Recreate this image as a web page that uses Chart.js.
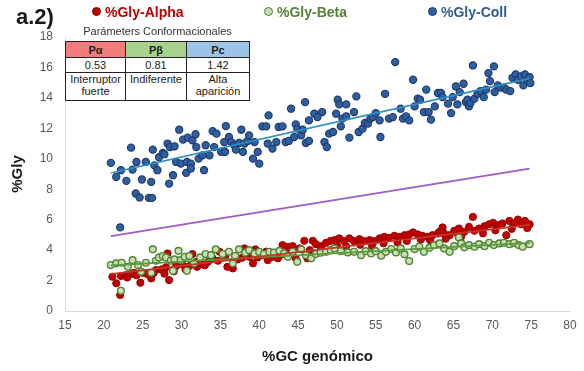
<!DOCTYPE html>
<html>
<head>
<meta charset="utf-8">
<script src="https://cdn.jsdelivr.net/npm/chart.js@4/dist/chart.umd.min.js"></script>
<style>
  html, body { margin: 0; padding: 0; background: #fff; }
  #wrap { position: relative; width: 584px; height: 371px; font-family: "Liberation Sans", Arial, sans-serif; }
  #c { position: absolute; left: 0; top: 0; }
  .tag { position: absolute; left: 16px; top: 4px; font-size: 22px; font-weight: bold; color: #1a1a1a; }
  .lg { position: absolute; top: 4px; font-size: 14px; font-weight: bold; white-space: nowrap; line-height: 16px; }
  .lg .dot { display: inline-block; width: 7px; height: 7px; border-radius: 50%; border: 1px solid; margin-right: 4px; vertical-align: 1px; }
  .ttl { position: absolute; left: 65px; width: 185px; top: 25px; text-align: center; font-size: 11px; color: #333; }
  table.par { position: absolute; left: 65px; top: 41px; border-collapse: collapse; background: #fff; font-size: 11px; color: #222; }
  table.par td { border: 1px solid #222; padding: 0; text-align: center; line-height: 12px; }
  table.par tr.h td { height: 15px; font-weight: bold; }
  table.par tr.v td { height: 14px; }
  table.par tr.d td { height: 27px; vertical-align: top; }
</style>
</head>
<body>
<div id="wrap">
  <canvas id="c" width="584" height="371"></canvas>
  <div class="tag">a.2)</div>
  <div class="lg" style="left:92px;color:#c00000"><span class="dot" style="background:#c00000;border-color:#8e0000"></span>%Gly-Alpha</div>
  <div class="lg" style="left:264px;color:#548235"><span class="dot" style="background:#c5e0b4;border-color:#548235"></span>%Gly-Beta</div>
  <div class="lg" style="left:428px;color:#2f5c98"><span class="dot" style="background:#2e5fa3;border-color:#1f3864"></span>%Gly-Coll</div>
  <div class="ttl">Parámeters Conformacionales</div>
  <table class="par">
    <tr class="h">
      <td style="width:59px;background:#f47b7b">Pα</td>
      <td style="width:60px;background:#a9d18e">Pβ</td>
      <td style="width:62px;background:#9dc3e6">Pc</td>
    </tr>
    <tr class="v"><td>0.53</td><td>0.81</td><td>1.42</td></tr>
    <tr class="d"><td>Interruptor<br>fuerte</td><td>Indiferente</td><td>Alta<br>aparición</td></tr>
  </table>
</div>
<script>
// %GC genómico (x) and %Gly (y) per genome, one pair of arrays per structure class
const collGC = [20.9,21.6,22.2,22.9,23.5,23.7,24.2,24.1,24.6,24.9,
  25.4,25.8,26.2,26.1,26.3,26.5,26.9,27.1,27.6,27.8,
  28.2,28.4,28.5,28.9,29.1,29.3,29.7,29.9,30.2,30.6,
  30.7,30.8,31.2,31.4,31.2,31.8,31.9,32.2,32.7,32.9,
  33.1,33.6,34.0,34.2,34.5,35.1,35.5,35.7,35.6,36.1,
  36.4,36.8,37.0,37.4,37.7,37.9,38.1,38.5,38.7,39.2,
  39.4,39.8,40.0,40.4,40.9,41.1,41.2,41.7,42.2,42.5,
  43.0,43.4,43.8,44.1,44.5,44.7,44.9,45.4,45.6,46.0,
  46.4,46.4,45.9,47.1,47.5,48.1,48.4,48.7,49.0,49.5,
  49.9,50.1,50.3,50.5,50.7,51.2,51.2,51.6,52.2,52.5,
  52.8,53.3,53.6,54.0,54.3,54.6,55.0,55.5,55.6,56.2,
  56.7,57.2,57.5,58.2,58.5,58.9,59.3,59.8,60.0,60.4,
  60.7,61.2,61.5,61.8,62.1,62.6,63.0,63.4,63.6,64.3,
  64.7,64.9,65.3,65.5,65.8,66.3,66.6,66.8,67.0,67.2,
  67.5,67.7,68.1,68.5,68.9,69.2,69.5,69.7,70.2,70.3,
  70.7,71.1,71.5,71.8,72.3,72.6,73.0,73.3,73.7,74.0,
  74.2,74.5,74.8,74.9,22.1];
const collGly = [9.73,8.81,9.25,8.55,10.73,9.29,9.79,7.72,7.46,8.64,
  9.79,7.43,7.43,8.48,10.6,9.57,9.25,10.1,10.38,10.3,
  11.0,8.37,10.77,8.92,10.82,9.79,11.91,9.68,11.26,9.07,
  9.79,11.39,9.68,11.21,9.36,11.61,10.77,10.01,10.23,9.25,
  10.89,10.23,11.82,10.77,11.65,10.45,11.1,12.15,10.45,11.43,
  11.1,10.89,10.6,11.04,11.91,10.45,11.0,11.17,11.54,10.01,
  11.1,10.45,9.68,12.13,12.13,11.0,12.85,10.67,11.1,12.09,
  12.13,11.1,11.17,13.29,11.43,12.26,11.98,11.54,11.91,11.04,
  12.52,11.17,13.72,12.96,12.74,13.07,11.1,10.77,11.65,11.76,
  12.96,13.88,13.57,12.13,12.64,13.57,12.79,11.39,13.07,14.1,
  11.76,11.98,12.35,12.31,12.64,12.74,13.0,12.52,11.43,14.27,
  12.64,12.74,16.35,13.29,12.64,12.79,12.52,15.19,13.44,13.95,
  13.88,13.07,14.54,13.07,12.57,13.44,14.32,14.32,14.05,13.62,
  13.0,14.05,14.75,13.57,14.38,14.93,13.72,13.88,13.44,13.66,
  16.13,13.95,14.27,14.45,14.05,14.54,15.63,15.1,16.07,14.38,
  14.82,14.67,14.67,14.54,14.45,15.32,15.54,15.19,15.41,14.82,
  15.54,15.15,15.36,14.97,5.49];

const alphaGC = [21.1,21.6,22.1,22.2,22.9,23.5,23.9,24.7,25.0,25.6,
  26.1,26.7,27.4,28.0,28.4,28.2,29.3,30.1,31.0,31.4,
  31.9,32.5,33.4,34.0,34.7,23.0,24.2,26.4,27.8,29.0,
  30.5,32.0,33.0,34.9,35.6,35.9,36.6,37.2,38.1,38.7,
  39.2,39.5,39.8,40.4,41.1,41.7,42.4,43.0,43.7,44.3,
  44.7,45.2,45.8,46.2,46.9,47.3,47.9,48.6,49.2,37.8,
  40.9,42.8,44.0,46.5,48.0,49.7,50.3,50.9,51.6,52.2,
  52.9,53.5,54.2,54.8,55.5,56.1,56.7,57.4,58.0,58.7,
  59.3,59.8,60.4,61.0,61.7,62.3,63.0,50.0,51.2,53.0,
  54.5,56.0,57.8,59.0,60.8,62.0,63.2,63.6,63.8,64.5,
  65.1,65.5,65.7,66.4,67.0,67.5,67.7,68.3,69.0,69.6,
  70.1,70.7,71.3,71.8,72.2,72.8,73.3,73.7,74.2,74.8,
  64.0,66.0,68.8,70.4,72.5,74.5];
const alphaGly = [2.25,1.82,1.05,2.3,2.36,2.43,2.51,1.86,2.51,2.43,
  2.14,2.69,2.73,2.87,2.03,3.78,2.95,3.08,2.95,3.74,
  3.23,3.08,3.23,3.46,3.3,2.2,2.35,2.5,2.45,2.6,
  2.75,2.9,3.0,3.89,3.56,2.9,2.8,3.39,4.11,3.56,
  3.13,4.05,3.52,3.67,3.34,3.56,3.46,4.33,4.22,4.26,
  3.46,4.11,4.61,3.46,4.61,4.39,4.26,4.48,4.61,3.5,
  3.9,3.7,3.9,4.0,4.1,4.66,4.77,4.59,4.77,4.59,
  4.72,4.59,4.66,4.59,4.77,4.87,4.81,4.94,4.87,4.98,
  5.03,5.16,5.03,4.94,4.87,4.98,5.09,4.3,4.25,4.35,
  4.3,4.45,4.5,4.6,4.7,4.65,5.2,5.49,5.09,4.98,
  5.27,5.09,5.42,5.2,5.53,6.18,5.27,5.42,5.57,5.7,
  5.79,5.64,5.75,4.98,5.92,5.75,6.01,5.7,5.92,5.7,
  4.75,4.9,5.1,5.3,5.4,5.45];

const betaGC = [20.9,21.6,22.3,23.1,23.7,22.2,24.4,25.4,26.3,26.7,
  27.1,27.6,28.0,28.6,29.1,29.6,29.9,30.4,31.0,24.8,
  26.1,28.9,30.7,31.6,32.4,33.1,33.8,34.4,35.3,36.1,
  36.9,37.4,38.2,38.7,39.4,40.0,40.6,41.3,41.9,42.6,
  43.2,43.7,44.3,44.9,45.4,46.0,46.7,47.3,47.9,48.6,
  49.2,36.6,49.7,50.5,51.4,52.2,53.1,53.7,54.4,55.0,
  55.7,56.3,57.0,57.6,58.2,58.7,59.3,60.0,60.6,61.2,
  61.9,62.5,63.2,63.8,64.5,65.1,65.7,66.0,66.4,67.0,
  67.7,68.3,69.0,69.6,70.2,70.9,71.5,72.2,72.8,73.4,
  73.9,74.8];
const betaGly = [3.02,3.13,3.17,2.9,3.34,1.33,3.02,3.17,4.05,3.3,
  3.52,3.61,3.52,3.3,3.39,3.95,3.34,3.56,3.61,2.58,
  2.51,2.64,2.64,3.13,3.52,3.74,3.67,4.05,3.74,3.89,
  3.61,4.05,3.83,4.0,3.78,3.89,3.74,3.89,3.83,3.95,
  3.78,3.56,3.89,3.23,4.05,3.67,3.46,3.74,3.83,3.89,
  4.0,3.13,4.11,3.93,3.85,3.89,3.67,3.93,3.78,3.93,
  3.63,3.89,4.07,3.85,4.11,3.72,3.28,4.07,4.22,3.89,
  4.15,4.33,4.44,4.11,3.89,4.26,4.83,4.44,4.18,4.33,
  4.22,4.39,4.26,4.48,4.33,4.44,4.48,4.39,4.48,4.33,
  4.22,4.39];

// Linear fits: end points [x0, x1] and [y0, y1]
const fitX = [20.9, 74.8];
const collFit = [9.07, 15.28];
const alphaFit = [2.42, 5.66];
const betaFit = [3.0, 4.47];
const refLine = [4.92, 9.36];

// Axis ranges and tick steps
const xRange = [15, 80, 5];
const yRange = [0, 18, 2];

const pts = (xs, ys) => xs.map((x, i) => ({ x: x, y: ys[i] }));
const seg = ys => fitX.map((x, i) => ({ x: x, y: ys[i] }));

const fitLine = (data, color, width) => ({
  type: 'line', data: data, borderColor: color, borderWidth: width,
  pointRadius: 0, fill: false, tension: 0, order: 0
});

new Chart(document.getElementById('c'), {
  type: 'scatter',
  data: {
    datasets: [
      fitLine(seg(collFit), '#2e8fc4', 1.6),
      fitLine(seg(refLine), '#a35bc4', 1.8),
      fitLine(seg(alphaFit), '#c0392b', 1.8),
      fitLine(seg(betaFit), '#5b9a3a', 1.8),
      { label: '%Gly-Coll', data: pts(collGC, collGly), backgroundColor: '#2e5fa3',
        borderColor: '#1f3864', borderWidth: 1.1, pointRadius: 3.6, order: 1 },
      { label: '%Gly-Beta', data: pts(betaGC, betaGly), backgroundColor: '#c5e0b4',
        borderColor: '#548235', borderWidth: 1.4, pointRadius: 3.4, order: 2 },
      { label: '%Gly-Alpha', data: pts(alphaGC, alphaGly), backgroundColor: '#c00000',
        borderColor: '#9b0000', borderWidth: 1, pointRadius: 3.6, order: 3 }
    ]
  },
  options: {
    responsive: false,
    animation: false,
    events: [],
    layout: { padding: { top: 37, right: 14, bottom: 5, left: 0 } },
    plugins: { legend: { display: false }, tooltip: { enabled: false } },
    scales: {
      x: {
        type: 'linear', min: xRange[0], max: xRange[1],
        afterFit: s => { s.height = 55; },
        ticks: { stepSize: xRange[2], color: '#595959', padding: 7,
          font: { family: 'Liberation Sans', size: 12 } },
        grid: { display: false, drawTicks: false },
        border: { display: true, color: '#d9d9d9', width: 1 },
        title: { display: true, text: '%GC genómico', color: '#1a1a1a', padding: { top: 0, bottom: 0 },
          font: { family: 'Liberation Sans', size: 15, weight: 'bold' } }
      },
      y: {
        type: 'linear', min: yRange[0], max: yRange[1],
        afterFit: s => { s.width = 65; },
        ticks: { stepSize: yRange[2], color: '#595959', padding: 12,
          font: { family: 'Liberation Sans', size: 12 } },
        grid: { display: false, drawTicks: false },
        border: { display: true, color: '#d9d9d9', width: 1 },
        title: { display: true, text: '%Gly', color: '#1a1a1a', padding: { top: 9, bottom: 0 },
          font: { family: 'Liberation Sans', size: 15, weight: 'bold' } }
      }
    }
  }
});
</script>
</body>
</html>
